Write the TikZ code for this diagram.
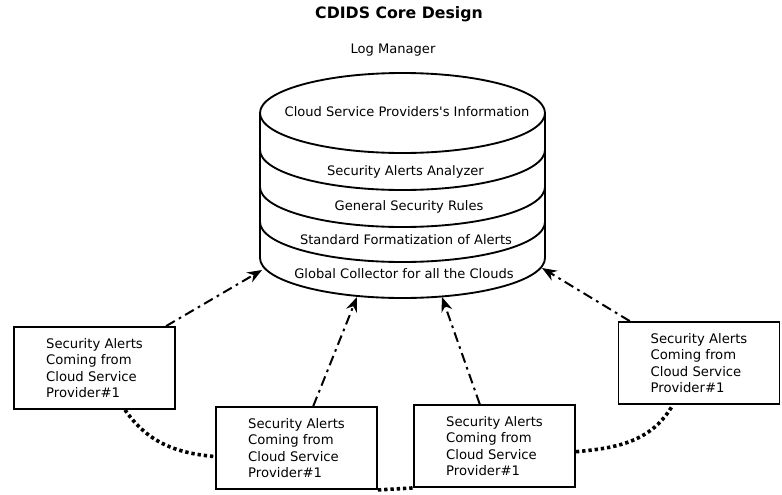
\documentclass[tikz,border=0pt]{standalone}
\usepackage{fontspec}
\setmainfont{DejaVu Sans}
\usetikzlibrary{arrows.meta}

\begin{document}
\begin{tikzpicture}[x=0.75pt, y=-0.75pt, line width=1.4pt,
    alertbox/.style={draw, line width=1.4pt, minimum width=120.75pt, minimum height=61.5pt,
        align=left, font=\fontsize{9.9}{12.2}\selectfont},
    layertext/.style={font=\fontsize{9.8}{11}\selectfont},
    feed/.style={-{Stealth[length=11pt, width=8.5pt]}, line width=1.5pt,
        dash pattern=on 7.5pt off 3.5pt on 2pt off 3.5pt},
    link/.style={line width=2.7pt, dash pattern=on 2.5pt off 2.2pt}]
        \useasboundingbox (0,0) rectangle (782,494);

        % title
        \node[font=\fontsize{11.8}{13}\selectfont\bfseries] (title) at (399,14) {CDIDS Core Design};
        \node[layertext] (logman) at (393,50) {Log Manager};

        % log manager cylinder
        \draw (402.5,113) ellipse [x radius=142.5, y radius=40];
        \draw (260,113) -- (260,258) (545,113) -- (545,258);
        \foreach \y in {150,187,222,258}
            \draw (260,\y) arc[start angle=180, end angle=0, x radius=142.5, y radius=40];

        \node[layertext] (info) at (407,112) {Cloud Service Providers\textquotesingle s Information};
        \node[layertext] (analyzer) at (405.5,172) {Security Alerts Analyzer};
        \node[layertext] (rules) at (409,207) {General Security Rules};
        \node[layertext] (format) at (406,240) {Standard Formatization of Alerts};
        \node[layertext] (collector) at (404,274) {Global Collector for all the Clouds};

        \coordinate (in1) at (262,270);
        \coordinate (in2) at (357,297);
        \coordinate (in3) at (442,297);
        \coordinate (in4) at (542,268);

        % providers
        \node[alertbox] (box1) at (94.5,368) {Security Alerts\\Coming from\\Cloud Service\\Provider\#1};
        \node[alertbox] (box2) at (296.5,448) {Security Alerts\\Coming from\\Cloud Service\\Provider\#1};
        \node[alertbox] (box3) at (494.5,446) {Security Alerts\\Coming from\\Cloud Service\\Provider\#1};
        \node[alertbox] (box4) at (699,363) {Security Alerts\\Coming from\\Cloud Service\\Provider\#1};

        \draw[feed] (box1) -- (in1);
        \draw[feed] (box2) -- (in2);
        \draw[feed] (box3) -- (in3);
        \draw[feed] (box4) -- (in4);

        \draw[link] (box1.-54) to[out=-55, in=175] (box2.186);
        \draw[link] (box2.south east) -- (box3.south west);
        \draw[link] (box3.-4) to[out=5, in=-120] (box4.-122);
\end{tikzpicture}
\end{document}
